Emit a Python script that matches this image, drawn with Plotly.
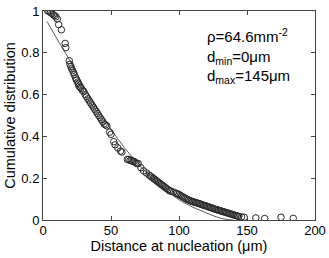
import plotly.graph_objects as go

# Measured data (empirical cumulative distribution)
dist_um = [3.5, 4.5, 5.5, 6.5, 7.5, 8.5, 9.5, 10.5, 11.5, 13.5, 16.3, 16.8, 19.3, 19.8,
           20.5, 21, 21.8, 22.5, 23, 24, 24.5, 25.5, 26, 26.5, 27.5, 28, 29, 30, 31, 32,
           33, 34, 35, 36, 37, 38, 39, 40, 41, 42, 43, 44, 45, 46, 47, 49, 50, 52, 53, 55,
           57, 58, 62, 63, 64, 65, 66, 67, 68, 69, 70, 72, 74, 76, 78, 79, 80, 81, 82, 83,
           84, 85, 86, 87, 88, 89, 90, 91, 92, 93, 94, 96, 98, 99, 100, 101, 102, 103, 104,
           105, 106, 107, 108, 109, 110, 111, 112, 113, 114, 115, 116, 117, 118, 119, 120,
           121, 122, 123, 124, 125, 126, 127, 128, 129, 130, 131, 132, 133, 134, 135, 136,
           137, 138, 139, 140, 141, 142, 143, 144, 146, 148, 156.5, 163, 175, 184]
cum_dist = [1.0, 0.998, 0.993, 0.988, 0.982, 0.978, 0.972, 0.962, 0.935, 0.91, 0.845, 0.825,
            0.762, 0.745, 0.735, 0.725, 0.715, 0.705, 0.695, 0.68, 0.67, 0.66, 0.65, 0.64,
            0.635, 0.63, 0.62, 0.615, 0.6, 0.59, 0.58, 0.57, 0.56, 0.55, 0.54, 0.53, 0.52,
            0.51, 0.5, 0.49, 0.48, 0.47, 0.46, 0.455, 0.45, 0.42, 0.41, 0.375, 0.36, 0.345,
            0.33, 0.325, 0.29, 0.29, 0.285, 0.285, 0.28, 0.28, 0.275, 0.27, 0.27, 0.25,
            0.235, 0.225, 0.215, 0.21, 0.205, 0.2, 0.195, 0.19, 0.185, 0.18, 0.175, 0.17,
            0.165, 0.16, 0.155, 0.15, 0.145, 0.14, 0.138, 0.134, 0.128, 0.125, 0.122, 0.118,
            0.114, 0.11, 0.106, 0.102, 0.099, 0.096, 0.093, 0.09, 0.088, 0.086, 0.084,
            0.082, 0.08, 0.078, 0.076, 0.073, 0.071, 0.069, 0.067, 0.065, 0.062, 0.06,
            0.058, 0.055, 0.053, 0.051, 0.049, 0.047, 0.045, 0.043, 0.041, 0.039, 0.037,
            0.035, 0.033, 0.031, 0.029, 0.027, 0.025, 0.023, 0.021, 0.019, 0.017, 0.015,
            0.013, 0.01, 0.007, 0.013, 0.008, 0.007, 0.002]

# Model curve
model_x = [3, 10, 20, 30, 40, 50, 60, 70, 80, 90, 100, 110, 115, 120, 125, 130, 135, 140]
model_y = [0.95, 0.87, 0.76, 0.64, 0.535, 0.435, 0.345, 0.27, 0.2, 0.145, 0.097, 0.062,
           0.048, 0.034, 0.021, 0.01, 0.003, 0.0]

x_ticks = [0, 50, 100, 150, 200]
y_ticks = [0, 0.2, 0.4, 0.6, 0.8, 1]
y_tick_labels = ["0", "0.2", "0.4", "0.6", "0.8", "1"]

fig = go.Figure()
fig.add_trace(go.Scatter(x=model_x, y=model_y, mode="lines",
                         line=dict(color="#555555", width=1), line_shape="spline",
                         showlegend=False))
fig.add_trace(go.Scatter(x=dist_um, y=cum_dist, mode="markers",
                         marker=dict(symbol="circle-open", size=6.5,
                                     color="#2a2a2a", line=dict(width=1)),
                         showlegend=False))

font = dict(family="Liberation Sans, Arial, sans-serif", size=13, color="black")
axis_common = dict(showline=True, mirror="ticks", linecolor="#444444", linewidth=1,
                   ticks="inside", ticklen=4, tickcolor="#444444", showgrid=False,
                   zeroline=False, tickfont=font, automargin=False)

fig.update_xaxes(range=[0, 200], tickvals=x_ticks, ticklabelstandoff=-2,
                 title=dict(text="Distance at nucleation (μm)", font=dict(font, size=14.5),
                            standoff=1), **axis_common)
fig.update_yaxes(range=[0, 1], tickvals=y_ticks, ticktext=y_tick_labels,
                 title=dict(text="Cumulative distribution", font=dict(font, size=14.5),
                            standoff=2), **axis_common)

fig.add_annotation(x=0.595, y=0.94, xref="paper", yref="paper", xanchor="left", yanchor="top",
                   align="left", showarrow=False, font=dict(font, size=15),
                   text="ρ=64.6mm<sup>-2</sup><br>d<sub>min</sub>=0μm<br>d<sub>max</sub>=145μm")

fig.update_layout(width=329, height=258, margin=dict(l=43, r=14, t=11, b=38),
                  plot_bgcolor="white", paper_bgcolor="white", font=font)
fig.write_html("out.html", config={"displayModeBar": False})

# remove default page margin so the figure sits at the window's top-left corner
with open("out.html", encoding="utf-8") as f:
    html = f.read()
html = html.replace("<head>", "<head><style>html,body{margin:0;padding:0;overflow:hidden;}</style>", 1)
with open("out.html", "w", encoding="utf-8") as f:
    f.write(html)
